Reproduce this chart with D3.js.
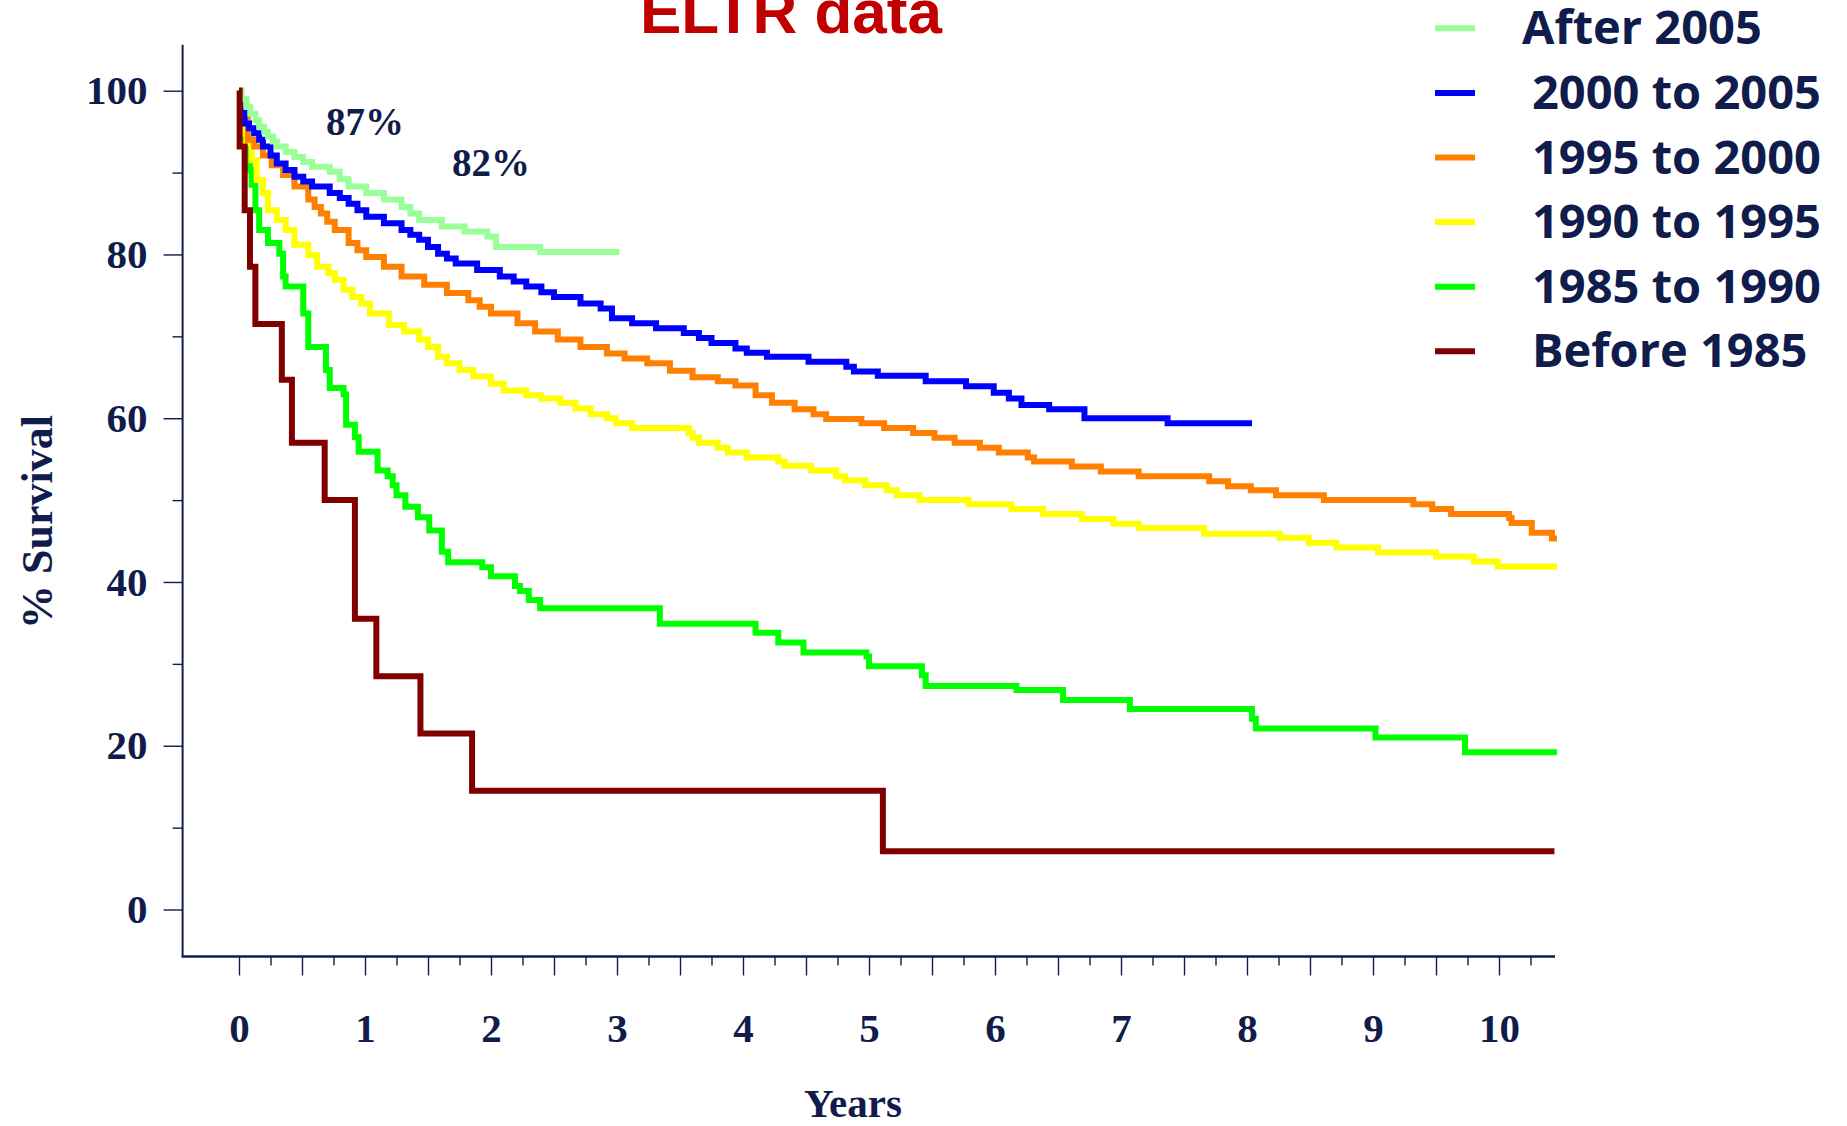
<!DOCTYPE html>
<html>
<head>
<meta charset="utf-8">
<script src="https://cdn.jsdelivr.net/npm/d3@7"></script>
<style>
  body { margin: 0; background: #ffffff; }
  svg { display: block; }
</style>
</head>
<body>
<svg id="chart" width="1847" height="1126"></svg>
<script>
// Kaplan-Meier survival by era of transplantation, [years, % survival]
const after2005 = [[0,100],[0.02,99.0],[0.06,98.0],[0.09,97.2],[0.13,96.4],[0.16,95.6],[0.20,95.0],[0.23,94.4],[0.27,93.8],[0.30,93.2],[0.37,92.5],[0.44,91.9],[0.51,91.3],[0.58,90.7],[0.72,90.1],[0.80,89.2],[0.87,88.3],[1.01,87.5],[1.15,86.7],[1.29,85.8],[1.36,85.0],[1.43,84.2],[1.61,83.4],[1.79,82.8],[1.97,82.2],[2.04,80.9],[2.39,80.3],[3.02,80.3]];

const from2000to2005 = [[0,100],[0.01,97.5],[0.045,96.0],[0.08,95.4],[0.12,94.8],[0.16,94.0],[0.19,93.2],[0.25,92.1],[0.30,91.1],[0.37,90.3],[0.44,89.5],[0.51,88.9],[0.58,88.3],[0.72,87.5],[0.80,86.9],[0.87,86.2],[0.94,85.4],[1.01,84.6],[1.15,83.8],[1.29,83.0],[1.36,82.4],[1.43,81.8],[1.50,80.9],[1.58,80.1],[1.65,79.5],[1.72,78.9],[1.89,78.1],[2.07,77.3],[2.18,76.7],[2.28,76.1],[2.40,75.4],[2.50,74.8],[2.71,74.0],[2.87,73.4],[2.96,72.2],[3.12,71.6],[3.31,71.0],[3.53,70.4],[3.65,69.8],[3.75,69.2],[3.94,68.5],[4.03,68.0],[4.19,67.5],[4.52,66.9],[4.82,66.3],[4.88,65.7],[5.07,65.2],[5.45,64.5],[5.77,63.9],[5.99,63.1],[6.11,62.4],[6.21,61.6],[6.43,61.1],[6.71,60.0],[7.37,59.4],[8.04,59.4]];

const from1995to2000 = [[0,100],[0.01,97.5],[0.045,96.8],[0.07,94.0],[0.12,93.2],[0.19,92.1],[0.26,90.9],[0.35,89.7],[0.44,88.3],[0.55,86.7],[0.60,85.8],[0.65,85.0],[0.70,84.0],[0.76,83.0],[0.87,81.4],[0.94,80.5],[1.01,79.7],[1.15,78.5],[1.29,77.3],[1.47,76.3],[1.65,75.3],[1.82,74.4],[1.91,73.6],[2.00,72.8],[2.21,71.6],[2.35,70.6],[2.53,69.6],[2.71,68.7],[2.92,67.9],[3.06,67.3],[3.24,66.7],[3.42,65.8],[3.60,65.0],[3.80,64.5],[3.94,64.0],[4.10,62.8],[4.23,61.9],[4.41,61.1],[4.56,60.5],[4.66,59.9],[4.94,59.4],[5.12,58.8],[5.35,58.2],[5.52,57.6],[5.68,57.0],[5.88,56.4],[6.03,55.8],[6.26,55.2],[6.31,54.7],[6.61,54.1],[6.84,53.5],[7.14,52.9],[7.70,52.3],[7.85,51.7],[8.03,51.2],[8.23,50.6],[8.61,50.0],[9.32,49.5],[9.47,48.9],[9.62,48.3],[10.08,47.8],[10.10,47.2],[10.26,46.0],[10.42,45.3],[10.46,45.3]];

const from1990to1995 = [[0,100],[0.01,96.5],[0.045,94.8],[0.06,93.6],[0.10,91.5],[0.14,89.1],[0.19,87.5],[0.23,85.4],[0.30,84.2],[0.37,83.0],[0.44,81.2],[0.55,79.9],[0.62,78.5],[0.71,77.7],[0.76,76.9],[0.83,75.7],[0.90,74.8],[0.97,74.0],[1.04,72.8],[1.19,71.4],[1.31,70.6],[1.43,69.6],[1.50,68.7],[1.58,67.5],[1.65,66.7],[1.75,65.9],[1.86,65.1],[2.00,64.2],[2.10,63.4],[2.28,62.8],[2.40,62.4],[2.55,61.9],[2.67,61.2],[2.79,60.5],[2.92,60.0],[2.99,59.4],[3.12,58.8],[3.57,58.2],[3.60,57.6],[3.65,57.0],[3.80,56.4],[3.88,55.8],[4.03,55.2],[4.28,54.7],[4.33,54.2],[4.54,53.6],[4.74,52.9],[4.81,52.4],[4.97,51.8],[5.14,51.2],[5.22,50.6],[5.40,50.0],[5.79,49.5],[6.13,48.9],[6.38,48.3],[6.69,47.7],[6.94,47.1],[7.14,46.6],[7.66,45.9],[8.26,45.4],[8.49,44.8],[8.71,44.2],[9.04,43.6],[9.50,43.1],[9.80,42.5],[9.99,41.9],[10.46,41.9]];

const from1985to1990 = [[0,100],[0.01,96.0],[0.045,94.0],[0.087,90.3],[0.10,88.5],[0.13,85.4],[0.16,83.0],[0.23,81.4],[0.32,80.1],[0.35,77.3],[0.37,76.1],[0.51,72.8],[0.55,68.7],[0.69,65.9],[0.72,63.7],[0.83,62.9],[0.85,59.2],[0.92,57.7],[0.95,55.9],[1.10,53.6],[1.18,52.9],[1.22,51.8],[1.25,50.6],[1.32,49.2],[1.42,47.9],[1.51,46.3],[1.61,43.7],[1.66,42.4],[1.93,41.8],[2.00,40.7],[2.19,39.5],[2.23,38.9],[2.30,37.8],[2.39,36.8],[3.34,34.9],[4.10,33.8],[4.28,32.6],[4.48,31.4],[4.98,30.9],[5.00,29.7],[5.42,28.6],[5.45,27.3],[6.17,26.8],[6.54,25.6],[7.07,24.5],[8.04,23.3],[8.07,22.1],[9.02,21.0],[9.73,19.2],[10.46,19.2]];

const before1985 = [[0,100],[0.005,93.2],[0.045,85.4],[0.087,78.5],[0.13,71.5],[0.34,64.7],[0.42,57.0],[0.68,50.0],[0.92,35.5],[1.09,28.5],[1.44,21.5],[1.85,14.5],[5.11,7.1],[10.44,7.1]];

const seriesLabels = ["After 2005", "2000 to 2005", "1995 to 2000", "1990 to 1995", "1985 to 1990", "Before 1985"];
const seriesData = [after2005, from2000to2005, from1995to2000, from1990to1995, from1985to1990, before1985];
const seriesColors = ["#99ff99", "#0000ff", "#ff8000", "#ffff00", "#00ff00", "#800000"];

const yearTicks = [0,1,2,3,4,5,6,7,8,9,10];
const survivalTicks = [0,20,40,60,80,100];
const noteYears = [1, 2];
const noteValues = [87, 82];

// ---- layout ----
const navy = "#101c4c";
const svg = d3.select("#chart");
const axisX0 = 182.6, axisXEnd = 1555, axisY0 = 44.8, axisYBase = 956.5;

const x = d3.scaleLinear().domain([0, 10]).range([239, 1499]);
const y = d3.scaleLinear().domain([0, 100]).range([909.5, 90.7]);

// title
svg.append("text")
  .attr("x", 791).attr("y", 33)
  .attr("text-anchor", "middle")
  .style("font-family", "'Liberation Sans', Arial, sans-serif")
  .style("font-weight", "bold")
  .style("font-size", "62px")
  .style("fill", "#c00000")
  .text("ELTR data");

// axis lines
svg.append("line")
  .attr("x1", axisX0).attr("x2", axisX0).attr("y1", axisY0).attr("y2", axisYBase)
  .attr("stroke", navy).attr("stroke-width", 2);
svg.append("line")
  .attr("x1", axisX0 - 1).attr("x2", axisXEnd).attr("y1", axisYBase).attr("y2", axisYBase)
  .attr("stroke", navy).attr("stroke-width", 2.6);

// x ticks: half-year majors, quarter-year minors
const xMajor = d3.axisBottom(x).tickValues(d3.range(0, 10.01, 0.5)).tickSize(19).tickFormat("");
const xMinor = d3.axisBottom(x).tickValues(d3.range(0.25, 10.3, 0.5)).tickSize(9).tickFormat("");
[xMajor, xMinor].forEach(ax => {
  const g = svg.append("g").attr("transform", `translate(0,${axisYBase})`).call(ax);
  g.select(".domain").remove();
  g.selectAll(".tick line").attr("stroke", navy).attr("stroke-width", 1.4);
});

// x labels
const xLab = svg.append("g").attr("transform", `translate(0,${axisYBase})`)
  .call(d3.axisBottom(x).tickValues(yearTicks).tickSize(0).tickPadding(56).tickFormat(d3.format("d")));
xLab.select(".domain").remove();
xLab.selectAll("text")
  .style("font-family", "'Liberation Serif', 'Times New Roman', serif")
  .style("font-weight", "bold").style("font-size", "41px").style("fill", navy);

// y ticks
const yMajor = svg.append("g").attr("transform", `translate(${axisX0},0)`)
  .call(d3.axisLeft(y).tickValues(survivalTicks).tickSize(19).tickPadding(16).tickFormat(d3.format("d")));
yMajor.select(".domain").remove();
yMajor.selectAll(".tick line").attr("stroke", navy).attr("stroke-width", 1.4);
yMajor.selectAll("text")
  .style("font-family", "'Liberation Serif', 'Times New Roman', serif")
  .style("font-weight", "bold").style("font-size", "41px").style("fill", navy);

const yMinor = svg.append("g").attr("transform", `translate(${axisX0},0)`)
  .call(d3.axisLeft(y).tickValues(d3.range(10, 100, 20)).tickSize(10).tickFormat(""));
yMinor.select(".domain").remove();
yMinor.selectAll(".tick line").attr("stroke", navy).attr("stroke-width", 1.4);

// axis titles
svg.append("text")
  .attr("transform", "translate(52,522) rotate(-90)")
  .attr("text-anchor", "middle")
  .style("font-family", "'Liberation Serif', 'Times New Roman', serif")
  .style("font-weight", "bold").style("font-size", "44px").style("fill", navy)
  .text("% Survival");

svg.append("text")
  .attr("x", 853).attr("y", 1117)
  .attr("text-anchor", "middle")
  .style("font-family", "'Liberation Serif', 'Times New Roman', serif")
  .style("font-weight", "bold").style("font-size", "41px").style("fill", navy)
  .text("Years");

// survival curves (drawn oldest era last so it sits on top at the origin)
const line = d3.line().x(d => x(d[0])).y(d => y(d[1])).curve(d3.curveStepAfter);
const drawOrder = [4, 3, 2, 1, 0, 5];
svg.append("g").selectAll("path")
  .data(drawOrder)
  .join("path")
  .attr("d", i => line(seriesData[i]))
  .attr("fill", "none")
  .attr("stroke", i => seriesColors[i])
  .attr("stroke-width", 6)
  .attr("stroke-linejoin", "miter")
  .attr("stroke-linecap", "butt");

// survival annotations
svg.append("g").selectAll("text")
  .data(noteYears.map((t, i) => ({ t, v: noteValues[i] })))
  .join("text")
  .attr("x", d => x(d.t))
  .attr("y", d => y(d.v) - 62)
  .attr("text-anchor", "middle")
  .style("font-family", "'Liberation Serif', 'Times New Roman', serif")
  .style("font-weight", "bold").style("font-size", "39px").style("fill", navy)
  .text(d => `${d.v}%`);

// legend
const legend = svg.append("g");
const legendItems = legend.selectAll("g")
  .data(seriesLabels)
  .join("g")
  .attr("transform", (d, i) => `translate(1435,${28.3 + i * 64.6})`);
legendItems.append("line")
  .attr("x1", 0).attr("x2", 40).attr("y1", 0).attr("y2", 0)
  .attr("stroke", (d, i) => seriesColors[i])
  .attr("stroke-width", 6);
legendItems.append("text")
  .attr("x", (d, i) => i === 0 ? 87 : 97)
  .attr("y", 16)
  .style("font-family", "'Open Sans', 'DejaVu Sans', sans-serif")
  .style("font-weight", "bold").style("font-size", "47px").style("fill", navy)
  .text(d => d);
</script>
</body>
</html>
